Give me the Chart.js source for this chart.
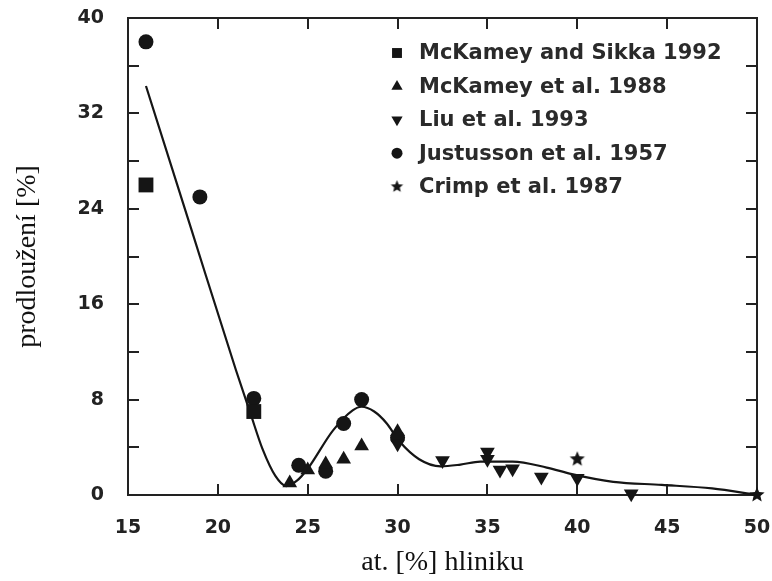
<!DOCTYPE html>
<html>
<head>
<meta charset="utf-8">
<script src="https://cdn.jsdelivr.net/npm/chart.js@4.4.1/dist/chart.umd.min.js"></script>
<style>
  html, body { margin: 0; padding: 0; background: #fff; }
  #obal { width: 772px; height: 581px; }
</style>
</head>
<body>
<div id="obal"><canvas id="graf"></canvas></div>
<script>
// --- Naměřená data: at. % Al vs. prodloužení % ---
const sikkaAl = [16, 22];
const sikkaProdl = [26, 7];

const mckameyAl = [24, 25, 26, 27, 28, 30];
const mckameyProdl = [1.0, 2.1, 2.6, 3.0, 4.1, 5.3];

const liuAl = [30, 32.5, 35, 35, 35.7, 36.4, 38, 40, 43];
const liuProdl = [4.3, 2.9, 3.6, 3.0, 2.1, 2.2, 1.5, 1.4, 0.1];

const justussonAl = [16, 19, 22, 24.5, 26, 27, 28, 30];
const justussonProdl = [38, 25, 8.1, 2.5, 2.0, 6.0, 8.0, 4.8];

const crimpAl = [40, 50];
const crimpProdl = [3.0, 0];

// proložená křivka
const krivkaAl = [16, 18.5, 21, 21.8, 22.5, 23.2, 23.8, 24.4, 25, 26.4, 27.5, 28, 28.7, 29.4, 30.1, 31.2, 32.4, 33.5, 34.6, 36.4, 38.3, 39.7, 42, 44.7, 47.5, 50];
const krivkaProdl = [34.3, 22.4, 10.5, 6.9, 3.8, 1.6, 0.75, 1.2, 2.2, 5.4, 7.1, 7.4, 7.0, 6.0, 4.5, 3.0, 2.4, 2.55, 2.8, 2.8, 2.3, 1.75, 1.1, 0.85, 0.55, 0];

const osaXTicks = [15, 20, 25, 30, 35, 40, 45, 50];
const osaYTicks = [0, 8, 16, 24, 32, 40];

const CERNA = '#151515';
const TICK = 11;

const body = (xs, ys) => xs.map((x, i) => ({ x, y: ys[i] }));

// --- Hvězdička jako obrázek (Chart.js 'star' je jen křížek) ---
function udelejHvezdu(r) {
  const c = document.createElement('canvas');
  const s = Math.ceil(r * 2) + 2;
  c.width = c.height = s;
  const g = c.getContext('2d');
  g.fillStyle = CERNA;
  g.beginPath();
  for (let i = 0; i < 10; i++) {
    const rr = i % 2 ? r * 0.45 : r;
    const a = -Math.PI / 2 + i * Math.PI / 5;
    g.lineTo(s / 2 + rr * Math.cos(a), s / 2 + rr * Math.sin(a));
  }
  g.closePath();
  g.fill();
  return c;
}
const hvezda = udelejHvezdu(8);
const hvezdaMala = udelejHvezdu(6.5);

const datasets = [
  { label: 'McKamey and Sikka 1992', data: body(sikkaAl, sikkaProdl),
    pointStyle: 'rect', pointRadius: 10.5, legendRadius: 7 },
  { label: 'McKamey et al. 1988', data: body(mckameyAl, mckameyProdl),
    pointStyle: 'triangle', pointRadius: 8.5, legendRadius: 6.5 },
  { label: 'Liu et al. 1993', data: body(liuAl, liuProdl),
    pointStyle: 'triangle', pointRotation: 180, pointRadius: 8.5, legendRadius: 6.5 },
  { label: 'Justusson et al. 1957', data: body(justussonAl, justussonProdl),
    pointStyle: 'circle', pointRadius: 7.5, legendRadius: 5.5 },
  { label: 'Crimp et al. 1987', data: body(crimpAl, crimpProdl),
    pointStyle: hvezda, pointRadius: 8, legendImage: hvezdaMala }
].map(d => Object.assign({
  backgroundColor: CERNA, borderColor: CERNA, borderWidth: 0,
  pointBackgroundColor: CERNA, pointBorderWidth: 0, clip: false
}, d));

datasets.push({
  label: 'fit', data: body(krivkaAl, krivkaProdl), showLine: true,
  borderColor: CERNA, borderWidth: 2.2, pointRadius: 0,
  cubicInterpolationMode: 'monotone', fill: false, clip: false
});

// --- Rámeček a ticky dovnitř ---
const ramecek = {
  id: 'ramecek',
  beforeDatasetsDraw(chart) {
    const { ctx, chartArea: a, scales: { x, y } } = chart;
    ctx.save();
    ctx.strokeStyle = '#222';
    ctx.lineWidth = 2;
    ctx.strokeRect(a.left, a.top, a.right - a.left, a.bottom - a.top);
    ctx.beginPath();
    x.ticks.forEach(t => {
      const px = Math.round(x.getPixelForValue(t.value));
      if (px <= a.left + 2 || px >= a.right - 2) return;
      ctx.moveTo(px, a.bottom); ctx.lineTo(px, a.bottom - TICK);
      ctx.moveTo(px, a.top); ctx.lineTo(px, a.top + TICK);
    });
    y.ticks.forEach(t => {
      const py = Math.round(y.getPixelForValue(t.value));
      if (py <= a.top + 2 || py >= a.bottom - 2) return;
      ctx.moveTo(a.left, py); ctx.lineTo(a.left + TICK, py);
      ctx.moveTo(a.right, py); ctx.lineTo(a.right - TICK, py);
    });
    ctx.stroke();
    ctx.restore();
  }
};

// --- Legenda uvnitř grafu ---
const legendaUvnitr = {
  id: 'legendaUvnitr',
  afterDatasetsDraw(chart) {
    const { ctx } = chart;
    const x0 = 397, y0 = 53, krok = 33.4;
    ctx.save();
    ctx.font = 'bold 21px "DejaVu Sans"';
    ctx.textBaseline = 'middle';
    chart.data.datasets.filter(d => d.label !== 'fit').forEach((d, i) => {
      const y = y0 + i * krok;
      ctx.fillStyle = CERNA;
      if (d.legendImage) {
        const im = d.legendImage;
        ctx.drawImage(im, x0 - im.width / 2, y - im.height / 2);
      } else {
        Chart.helpers.drawPoint(ctx, {
          pointStyle: d.pointStyle, radius: d.legendRadius,
          rotation: d.pointRotation || 0, borderWidth: 0
        }, x0, y);
      }
      ctx.fillStyle = '#2a2a2a';
      ctx.fillText(d.label, 419, y + 1);
    });
    ctx.restore();
  }
};

// popisky os nesmí posouvat plochu grafu
function bezPresahu(s) {
  s.paddingTop = 0; s.paddingBottom = 0;
  s.paddingLeft = 0; s.paddingRight = 0;
}

const tickFont = { family: '"DejaVu Sans"', size: 19, weight: 'bold' };

new Chart(document.getElementById('graf'), {
  type: 'scatter',
  data: { datasets },
  options: {
    responsive: true,
    maintainAspectRatio: false,
    animation: false,
    layout: { padding: { top: 18, right: 15, left: 0, bottom: 0 } },
    plugins: { legend: { display: false }, tooltip: { enabled: false } },
    scales: {
      x: {
        type: 'linear', min: 15, max: 50,
        afterBuildTicks: s => { s.ticks = osaXTicks.map(v => ({ value: v })); },
        afterFit: s => { s.height = 86; bezPresahu(s); },
        grid: { display: false, drawTicks: false },
        border: { display: false },
        ticks: { font: tickFont, color: '#222', padding: 22, autoSkip: false, maxRotation: 0 },
        title: {
          display: true, text: 'at. [%] hliniku', color: '#111',
          font: { family: '"Liberation Serif"', size: 28 },
          padding: { top: 0, bottom: 2 }
        }
      },
      y: {
        type: 'linear', min: 0, max: 40,
        ticks: {
          stepSize: 4, font: tickFont, color: '#222', padding: 24, autoSkip: false,
          callback: v => osaYTicks.includes(v) ? String(v) : ''
        },
        afterFit: s => { s.width = 128; bezPresahu(s); },
        grid: { display: false, drawTicks: false },
        border: { display: false },
        title: {
          display: true, text: 'prodloužení [%]', color: '#111',
          font: { family: '"Liberation Serif"', size: 28 },
          padding: { top: 11, bottom: 0 }
        }
      }
    }
  },
  plugins: [ramecek, legendaUvnitr]
});
</script>
</body>
</html>
